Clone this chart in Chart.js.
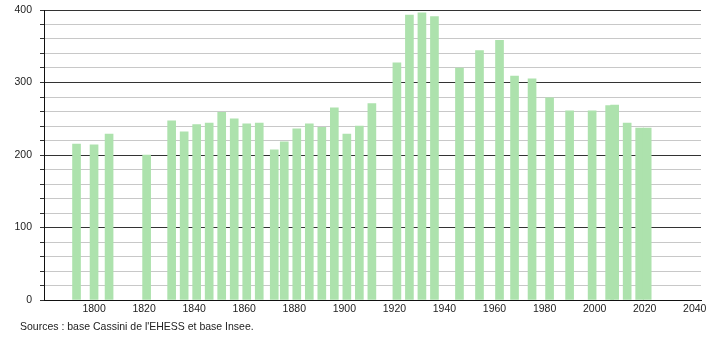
<!DOCTYPE html>
<html>
<head>
<meta charset="utf-8">
<script src="https://cdn.jsdelivr.net/npm/chart.js@4/dist/chart.umd.min.js"></script>
<style>
html,body{margin:0;padding:0;background:#fff;}
#wrap{width:710px;height:340px;position:relative;}
</style>
</head>
<body>
<div id="wrap"><canvas id="c" width="710" height="340"></canvas></div>
<script>
const years = [1793,1800,1806,1821,1831,1836,1841,1846,1851,1856,1861,1866,1872,1876,1881,1886,1891,1896,1901,1906,1911,1921,1926,1931,1936,1946,1954,1962,1968,1975,1982,1990,1999,2006,2008,2013,2018,2021];
const population = [215,214,229,200,247,232,242,244,259,250,243,244,207,218,236,243,238,265,229,240,271,327,393,396,391,320,344,358,309,305,279,261,261,268,269,244,237,237];
const xTickLabels = [1800,1820,1840,1860,1880,1900,1920,1940,1960,1980,2000,2020,2040];
const yTickLabels = [0,100,200,300,400];
const sourceText = "Sources : base Cassini de l'EHESS et base Insee.";

const FONT = "'Liberation Sans', Arial, sans-serif";

const sourcePlugin = {
  id: 'sourceText',
  afterDraw(chart) {
    const ctx = chart.ctx;
    ctx.save();
    ctx.font = "10.5px " + FONT;
    ctx.fillStyle = '#222';
    ctx.textBaseline = 'middle';
    ctx.textAlign = 'left';
    ctx.fillText(sourceText, 20, 327);
    ctx.restore();
  }
};

new Chart(document.getElementById('c'), {
  type: 'bar',
  data: {
    datasets: [{
      data: years.map((y, i) => ({x: y, y: population[i]})),
      backgroundColor: '#ade2ad',
      borderWidth: 0,
      barThickness: 8
    }]
  },
  options: {
    responsive: false,
    animation: false,
    devicePixelRatio: 1,
    layout: {padding: {top: 10, right: 9, left: 0, bottom: 0}},
    plugins: {legend: {display: false}, tooltip: {enabled: false}},
    scales: {
      x: {
        type: 'linear',
        offset: false,
        min: 1780,
        max: 2042.5,
        afterBuildTicks(scale) { scale.ticks = xTickLabels.map(v => ({value: v})); },
        afterFit(scale) { scale.height = 40; scale.paddingLeft = 0; scale.paddingRight = 0; },
        grid: {display: false, drawTicks: false},
        border: {display: true, color: '#111', width: 1},
        ticks: {
          autoSkip: false,
          maxRotation: 0,
          padding: 3,
          color: '#222',
          font: {family: FONT, size: 10.5},
          callback: v => String(v)
        }
      },
      y: {
        min: 0,
        max: 400,
        afterBuildTicks(scale) {
          const t = [];
          for (let v = 0; v <= 400; v += 20) t.push({value: v});
          scale.ticks = t;
        },
        afterFit(scale) { scale.width = 44; scale.paddingTop = 0; scale.paddingBottom = 0; },
        border: {display: true, color: '#111', width: 1},
        grid: {
          color: c => (c.tick && c.tick.value % 100 === 0) ? '#333' : '#c8c8c8',
          tickColor: '#333',
          tickLength: 4,
          lineWidth: 1
        },
        ticks: {
          autoSkip: false,
          padding: 8,
          color: '#222',
          font: {family: FONT, size: 10.5},
          callback: v => (yTickLabels.includes(v) ? String(v) : '')
        }
      }
    }
  },
  plugins: [sourcePlugin]
});
</script>
</body>
</html>
